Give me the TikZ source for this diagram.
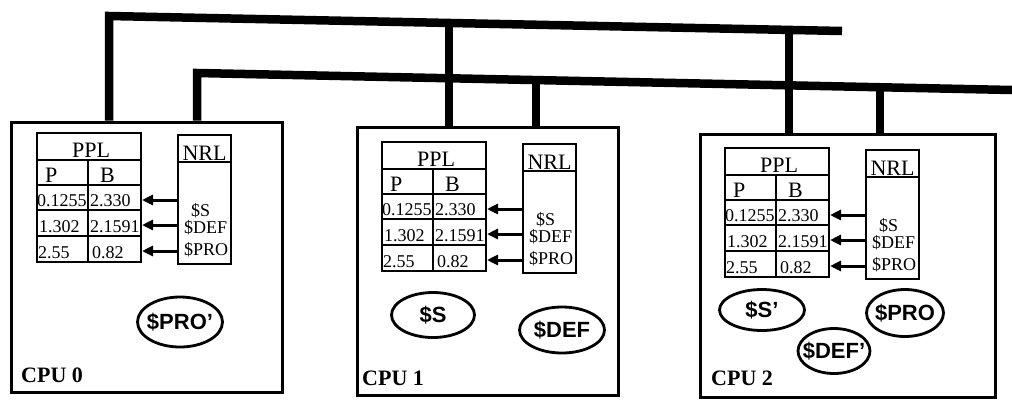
\documentclass[tikz,border=0pt]{standalone}
\usepackage{fontspec}
\setmainfont{Liberation Serif}
\setsansfont{Liberation Sans}
\usetikzlibrary{shapes.geometric,arrows.meta}
\newcommand{\fsz}[1]{\fontsize{#1}{#1}\selectfont}
\tikzset{
  bus/.style={line width=8.5pt, line join=miter},
  cpubox/.style={draw, line width=3pt, rectangle, inner sep=0pt},
  tbl/.style={line width=2.5pt},
  hdr/.style={font=\fsz{22}, inner sep=0pt},
  num/.style={font=\fsz{18}, inner sep=0pt, anchor=base west},
  item/.style={font=\fsz{18}, inner sep=0pt, anchor=base west},
  refarr/.style={line width=3pt, -{Triangle[length=11pt,width=10pt]}},
  blob/.style={ellipse, draw, line width=2.8pt, inner sep=0pt, font=\sffamily\bfseries\fsz{22}},
  cpulabel/.style={font=\bfseries\fsz{22}, inner sep=0pt, anchor=base west},
}
\newcommand{\lists}[3]{%
\begin{scope}[shift={(#2,#3)}]
  \draw[tbl] (0,0) rectangle (104,129);
  \foreach \r in {27,52,77,103} \draw[tbl] (0,\r) -- (104,\r);
  \draw[tbl] (51,27) -- (51,129);
  \draw[tbl] (141,2) rectangle (194,131);
  \draw[tbl] (141,29) -- (194,29);
  \node[hdr, anchor=base] (#1ppl) at (54,24) {PPL};
  \node[hdr, anchor=base west] (#1p) at (8,49) {P};
  \node[hdr, anchor=base east] (#1b) at (78,49) {B};
  \node[hdr, anchor=base] (#1nrl) at (167.5,27) {NRL};
  \node[num] (#1n11) at (0,73) {0.1255};
  \node[num] (#1n12) at (53,73) {2.330};
  \node[num] (#1n21) at (2,99) {1.302};
  \node[num] (#1n22) at (53,99) {2.1591};
  \node[num] (#1n31) at (1,125) {2.55};
  \node[num] (#1n32) at (55,125) {0.82};
  \node[item] (#1s) at (154,83) {\$S};
  \node[item] (#1d) at (147,100) {\$DEF};
  \node[item] (#1r) at (147,122) {\$PRO};
  \coordinate (#1f1) at (141,67); \coordinate (#1t1) at (105,67);
  \coordinate (#1f2) at (141,92); \coordinate (#1t2) at (105,92);
  \coordinate (#1f3) at (141,118); \coordinate (#1t3) at (105,118);
  \draw[refarr] (#1f1) -- (#1t1);
  \draw[refarr] (#1f2) -- (#1t2);
  \draw[refarr] (#1f3) -- (#1t3);
\end{scope}}
\begin{document}
\begin{tikzpicture}[x=1pt,y=-1pt]
\useasboundingbox (0,0) rectangle (1012,400);
% CPU boxes
\node[cpubox, minimum width=271pt, minimum height=270pt] (cpu0) at (146.5,257) {};
\node[cpubox, minimum width=261pt, minimum height=268pt] (cpu1) at (487.5,261) {};
\node[cpubox, minimum width=295pt, minimum height=263pt] (cpu2) at (847.5,265.5) {};
% buses
\coordinate (b1a) at (109,16); \coordinate (b1e) at (842,31);
\coordinate (b1c1) at (449,23); \coordinate (b1c2) at (789,30);
\coordinate (b2a) at (197,73); \coordinate (b2e) at (1012,90);
\coordinate (b2c1) at (536,80); \coordinate (b2c2) at (880,87);
\draw[bus] (b1a |- cpu0.north) -- (b1a) -- (b1e);
\draw[bus] (b2a |- cpu0.north) -- (b2a) -- (b2e);
\draw[bus] (b1c1) -- (b1c1 |- cpu1.north);
\draw[bus] (b2c1) -- (b2c1 |- cpu1.north);
\draw[bus] (b1c2) -- (b1c2 |- cpu2.north);
\draw[bus] (b2c2) -- (b2c2 |- cpu2.north);
% tables
\lists{a}{37}{133}
\lists{b}{382}{142}
\lists{c}{725}{148}
% ellipses
\node[blob, minimum width=85pt, minimum height=50pt] (e0) at (180,322) {\makebox[0pt]{\$PRO'}};
\node[blob, minimum width=83pt, minimum height=45pt] (e1) at (433,315) {\makebox[0pt]{\$S}};
\node[blob, minimum width=85pt, minimum height=46pt] (e2) at (562,330) {\makebox[0pt]{\$DEF}};
\node[blob, minimum width=85pt, minimum height=41pt] (e3) at (762,310) {\makebox[0pt]{\$S'}};
\node[blob, minimum width=77pt, minimum height=47pt] (e4) at (905,313) {\makebox[0pt]{\$PRO}};
\node[blob, minimum width=72pt, minimum height=45pt] (e5) at (834,351) {\makebox[0pt]{\$DEF'}};
% labels
\node[cpulabel] (l0) at (21,382) {CPU 0};
\node[cpulabel] (l1) at (362,385) {CPU 1};
\node[cpulabel] (l2) at (711,385) {CPU 2};
\end{tikzpicture}
\end{document}
